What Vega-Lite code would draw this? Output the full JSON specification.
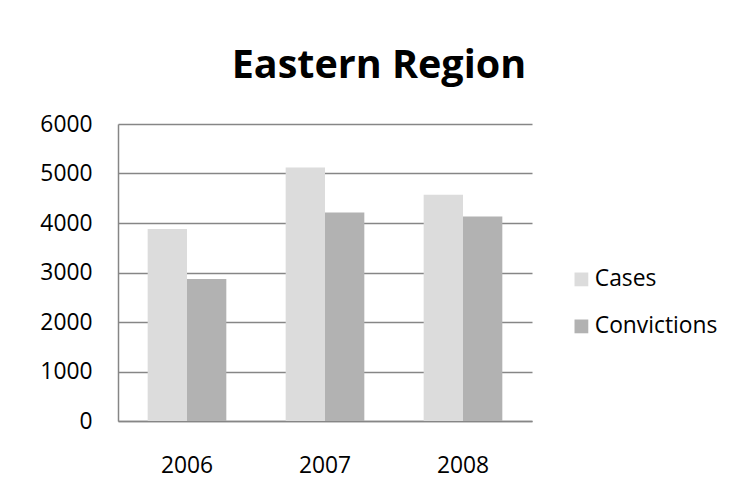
{
  "$schema": "https://vega.github.io/schema/vega-lite/v6.json",
  "autosize": {"type": "none"},
  "width": 414,
  "height": 297,
  "padding": {"left": 118, "top": 124, "right": 209, "bottom": 80},
  "background": "white",
  "title": {
    "text": "Eastern Region",
    "font": "Open Sans",
    "fontSize": 39.5,
    "fontWeight": "bold",
    "color": "black",
    "anchor": "middle",
    "frame": "bounds",
    "baseline": "alphabetic",
    "offset": -4
  },
  "data": {
    "values": [
      {"year": "2006", "series": "Cases", "value": 3880},
      {"year": "2006", "series": "Convictions", "value": 2870},
      {"year": "2007", "series": "Cases", "value": 5120},
      {"year": "2007", "series": "Convictions", "value": 4210},
      {"year": "2008", "series": "Cases", "value": 4570},
      {"year": "2008", "series": "Convictions", "value": 4130}
    ]
  },
  "mark": {"type": "bar"},
  "encoding": {
    "x": {
      "field": "year",
      "type": "nominal",
      "scale": {"paddingInner": 0.43, "paddingOuter": 0.215},
      "axis": {
        "title": null,
        "labelAngle": 0,
        "ticks": false,
        "labelPadding": 33,
        "domainColor": "#868686",
        "domainWidth": 1.5
      }
    },
    "xOffset": {
      "field": "series",
      "type": "nominal",
      "scale": {"paddingInner": 0, "paddingOuter": 0}
    },
    "y": {
      "field": "value",
      "type": "quantitative",
      "scale": {"domain": [0, 6000], "nice": false},
      "axis": {
        "title": null,
        "format": "d",
        "values": [0, 1000, 2000, 3000, 4000, 5000, 6000],
        "ticks": false,
        "labelPadding": 26,
        "grid": true,
        "gridColor": "#868686",
        "gridWidth": 1.5,
        "domainColor": "#868686",
        "domainWidth": 1.5,
        "labelBaseline": "middle"
      }
    },
    "color": {
      "field": "series",
      "type": "nominal",
      "scale": {"domain": ["Cases", "Convictions"], "range": ["#dcdcdc", "#b2b2b2"]},
      "legend": {
        "title": null,
        "orient": "none",
        "legendX": 452,
        "legendY": 144,
        "symbolType": "square",
        "symbolSize": 190,
        "symbolStrokeWidth": 0,
        "labelOffset": 2,
        "rowPadding": 23,
        "padding": 0
      }
    }
  },
  "config": {
    "view": {"stroke": null},
    "axis": {
      "labelFont": "Open Sans",
      "labelFontSize": 22.8,
      "labelColor": "black"
    },
    "legend": {
      "labelFont": "Open Sans",
      "labelFontSize": 22.8,
      "labelColor": "black"
    }
  }
}
